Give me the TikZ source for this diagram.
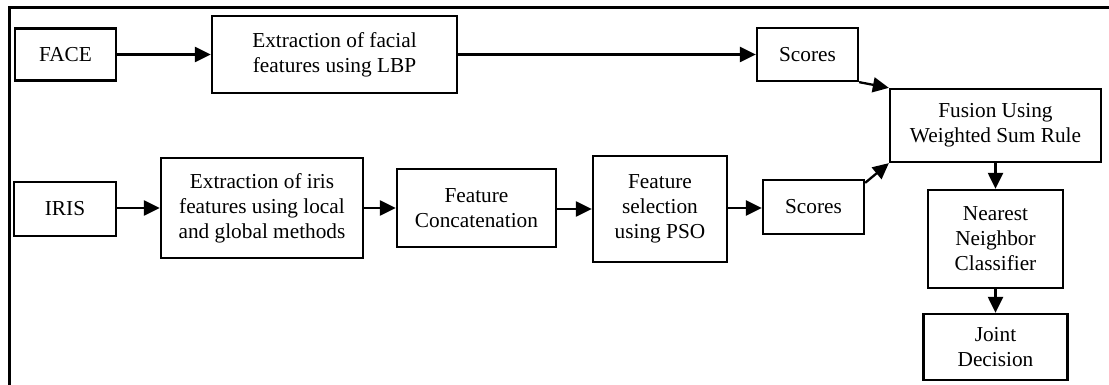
\documentclass[tikz,border=0pt]{standalone}
\usepackage{fontspec}
\setmainfont{Liberation Serif}
\usetikzlibrary{arrows.meta,calc}

\tikzset{
  blk/.style={draw, line width=2.3pt, align=center, inner sep=0pt,
    font=\fontsize{21.3}{25}\selectfont},
  conn/.style={line width=2.3pt, -{Triangle[length=16pt,width=15pt]}},
}

\begin{document}
\begin{tikzpicture}[x=1pt,y=-1pt]
\useasboundingbox (0,0) rectangle (1109,385);

% frame
\draw[line width=3pt] (9,385) -- (9,8) -- (1109,8);

% face branch
\node[blk, minimum width=101pt, minimum height=52pt] (face) at (65.5,54.5) {FACE};
\node[blk, minimum width=245pt, minimum height=77pt] (facext) at (334.5,54.5) {Extraction of facial\\features using LBP};
\node[blk, minimum width=101pt, minimum height=53pt] (scoresa) at (807.5,54.5) {Scores};

% iris branch
\node[blk, minimum width=102pt, minimum height=54pt] (iris) at (65,209) {IRIS};
\node[blk, minimum width=202pt, minimum height=100pt] (irisext) at (262,208) {Extraction of iris\\features using local\\and global methods};
\node[blk, minimum width=159pt, minimum height=78pt] (concat) at (476.5,208) {Feature\\Concatenation};
\node[blk, minimum width=134pt, minimum height=106pt] (pso) at (660,209) {Feature\\selection\\using PSO};
\node[blk, minimum width=101pt, minimum height=54pt] (scoresb) at (813.5,207) {Scores};

% fusion and decision
\node[blk, minimum width=211pt, minimum height=73pt] (fusion) at (995.5,125.5) {Fusion Using\\Weighted Sum Rule};
\node[blk, minimum width=135pt, minimum height=98pt] (nnc) at (995.5,239) {Nearest\\Neighbor\\Classifier};
\node[blk, minimum width=144pt, minimum height=66pt] (joint) at (995.5,347) {Joint\\Decision};

% connectors
\draw[conn] (face) -- (facext);
\draw[conn] (facext) -- (scoresa);
\draw[conn] (iris.east |- 0,208) -- (irisext.west |- 0,208);
\draw[conn] (irisext) -- (concat);
\draw[conn] (concat.east |- 0,209) -- (pso.west |- 0,209);
\draw[conn] (pso.east |- 0,208) -- (scoresb.west |- 0,208);
\draw[conn] (scoresa.south east) -- (fusion.north west);
\draw[conn] ($(scoresb.north east)+(0,4)$) -- (fusion.south west);
\draw[conn] (fusion) -- (nnc);
\draw[conn] (nnc) -- (joint);

\end{tikzpicture}
\end{document}
